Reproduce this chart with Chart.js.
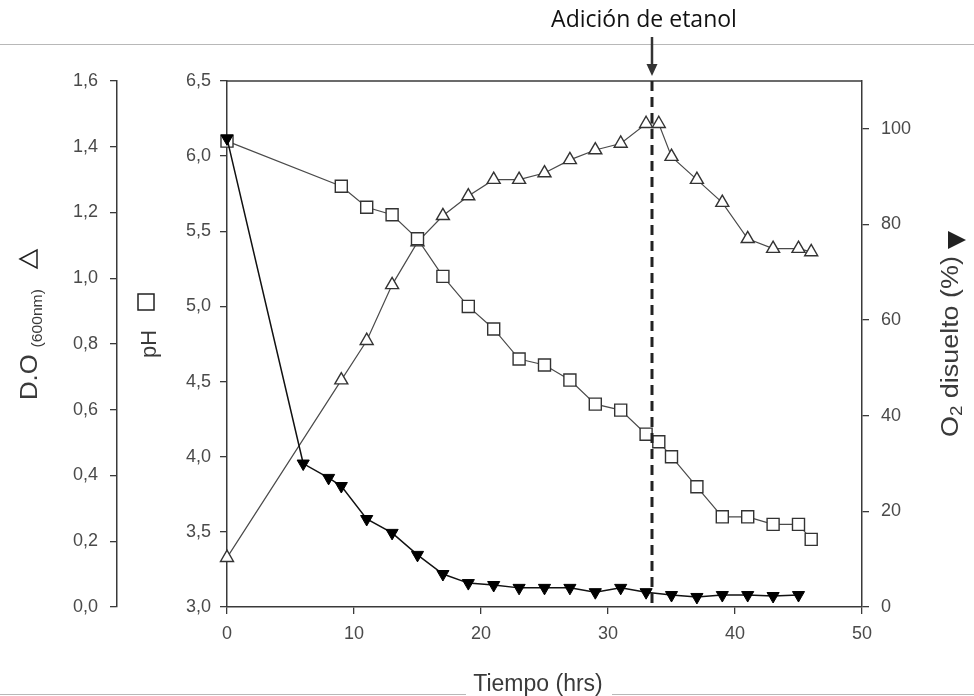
<!DOCTYPE html>
<html>
<head>
<meta charset="utf-8">
<script src="https://cdn.jsdelivr.net/npm/chart.js@4.4.1/dist/chart.umd.min.js"></script>
<style>
  html, body { margin: 0; padding: 0; background: #ffffff; }
  #wrap { width: 974px; height: 696px; position: relative; }
</style>
</head>
<body>
<div id="wrap"><canvas id="c"></canvas></div>
<script>
// Sampling times (h) and measurements of the culture
const hoursPH = [0, 9, 11, 13, 15, 17, 19, 21, 23, 25, 27, 29, 31, 33, 34, 35, 37, 39, 41, 43, 45, 46];
const pHValues = [6.10, 5.80, 5.66, 5.61, 5.45, 5.20, 5.00, 4.85, 4.65, 4.61, 4.51, 4.35, 4.31, 4.15, 4.10, 4.00, 3.80, 3.60, 3.60, 3.55, 3.55, 3.45];

const hoursOD = [0, 9, 11, 13, 15, 17, 19, 21, 23, 25, 27, 29, 31, 33, 34, 35, 37, 39, 41, 43, 45, 46];
const odValues = [0.15, 0.69, 0.81, 0.98, 1.11, 1.19, 1.25, 1.30, 1.30, 1.32, 1.36, 1.39, 1.41, 1.47, 1.47, 1.37, 1.30, 1.23, 1.12, 1.09, 1.09, 1.08];

const hoursO2 = [0, 6, 8, 9, 11, 13, 15, 17, 19, 21, 23, 25, 27, 29, 31, 33, 35, 37, 39, 41, 43, 45];
const o2Values = [98, 30, 27, 25.3, 18.4, 15.5, 10.9, 6.9, 5.0, 4.6, 4.0, 4.0, 4.0, 3.1, 4.0, 3.1, 2.5, 2.1, 2.5, 2.5, 2.3, 2.5];

// Time at which ethanol was added
const ethanolTime = 33.5;
const ethanolLabel = 'Adición de etanol';

const xTitle = 'Tiempo (hrs)';

const INK = '#3a3a3a';
const TICK_INK = '#4a4a4a';
const TICK_FONT = { family: '"Liberation Sans", Arial, sans-serif', size: 18 };
const comma = (v, d) => Number(v).toFixed(d).replace('.', ',');

const toPoints = (xs, ys) => xs.map((x, i) => ({ x: x, y: ys[i] }));

// Axis titles, frame top, ethanol marker
const decorations = {
  id: 'decorations',
  afterDraw(chart) {
    const ctx = chart.ctx;
    const area = chart.chartArea;
    const xs = chart.scales.x;
    ctx.save();

    // thin page rules
    ctx.strokeStyle = '#b8b8b8';
    ctx.lineWidth = 1;
    ctx.beginPath();
    ctx.moveTo(0, 44.5); ctx.lineTo(974, 44.5);
    ctx.moveTo(0, 694.5); ctx.lineTo(466, 694.5);
    ctx.moveTo(612, 694.5); ctx.lineTo(974, 694.5);
    ctx.stroke();

    // top edge of the plot frame
    ctx.strokeStyle = INK;
    ctx.lineWidth = 1.5;
    ctx.beginPath();
    ctx.moveTo(area.left, area.top);
    ctx.lineTo(area.right, area.top);
    ctx.stroke();

    // ethanol addition: dashed line
    const ex = Math.round(xs.getPixelForValue(ethanolTime));
    ctx.strokeStyle = '#222';
    ctx.lineWidth = 3;
    ctx.setLineDash([10, 6]);
    ctx.beginPath();
    ctx.moveTo(ex, area.top);
    ctx.lineTo(ex, area.bottom);
    ctx.stroke();
    ctx.setLineDash([]);

    // arrow
    ctx.strokeStyle = '#333';
    ctx.fillStyle = '#333';
    ctx.lineWidth = 2.5;
    ctx.beginPath();
    ctx.moveTo(ex, 37);
    ctx.lineTo(ex, 66);
    ctx.stroke();
    ctx.beginPath();
    ctx.moveTo(ex - 5.5, 64);
    ctx.lineTo(ex + 5.5, 64);
    ctx.lineTo(ex, 76);
    ctx.closePath();
    ctx.fill();

    ctx.fillStyle = '#111';
    ctx.font = '23px "Open Sans", sans-serif';
    ctx.textAlign = 'center';
    ctx.textBaseline = 'alphabetic';
    ctx.fillText(ethanolLabel, ex - 8, 27);

    // x axis title
    ctx.fillStyle = INK;
    ctx.font = '23px "Liberation Sans", Arial, sans-serif';
    ctx.fillText(xTitle, 538, 691);

    // rotated titles: pieces drawn along the text direction, slightly tall type
    function vertical(cx, startY, stretch, pieces) {
      ctx.save();
      ctx.translate(cx, startY);
      ctx.rotate(-Math.PI / 2);
      ctx.scale(stretch, 1);
      ctx.textAlign = 'left';
      ctx.textBaseline = 'alphabetic';
      let pos = 0;
      for (const p of pieces) {
        if (p.gap) { pos += p.gap; continue; }
        ctx.font = p.size + 'px "Liberation Sans", Arial, sans-serif';
        ctx.fillStyle = INK;
        ctx.fillText(p.text, pos, p.dy || 0);
        pos += ctx.measureText(p.text).width;
      }
      ctx.restore();
    }

    vertical(37, 400, 1.12, [{ text: 'D.O', size: 23 }, { gap: 6 }, { text: '(600nm)', size: 14, dy: 5 }]);
    vertical(156, 358, 1.0, [{ text: 'pH', size: 22 }]);
    vertical(958, 437, 1.17, [{ text: 'O', size: 23 }, { text: '2', size: 16, dy: 4 }, { text: ' disuelto (%)', size: 23 }]);

    // series symbols next to the titles
    ctx.lineWidth = 1.5;
    ctx.strokeStyle = '#222';
    // open triangle (optical density)
    ctx.beginPath();
    ctx.moveTo(20, 259); ctx.lineTo(37, 250); ctx.lineTo(37, 268); ctx.closePath();
    ctx.stroke();
    // open square (pH)
    ctx.strokeRect(138, 294, 16, 16);
    // filled triangle (dissolved O2)
    ctx.fillStyle = '#222';
    ctx.beginPath();
    ctx.moveTo(948, 231); ctx.lineTo(966, 240); ctx.lineTo(948, 249); ctx.closePath();
    ctx.fill();

    ctx.restore();
  }
};

const axisGrid = { drawOnChartArea: false, drawTicks: true, tickLength: 7, color: INK, lineWidth: 1.3 };
const axisBorder = { display: true, color: INK, width: 1.5 };

new Chart(document.getElementById('c'), {
  type: 'line',
  data: {
    datasets: [
      {
        label: 'O2 disuelto (%)',
        data: toPoints(hoursO2, o2Values),
        yAxisID: 'yO2',
        borderColor: '#111',
        borderWidth: 1.5,
        pointStyle: 'triangle',
        rotation: 180,
        pointRadius: 7,
        pointBackgroundColor: '#000',
        pointBorderColor: '#000',
        pointBorderWidth: 1,
        clip: false
      },
      {
        label: 'pH',
        data: toPoints(hoursPH, pHValues),
        yAxisID: 'yPH',
        borderColor: '#4a4a4a',
        borderWidth: 1.2,
        pointStyle: 'rect',
        pointRadius: 8.5,
        pointBackgroundColor: '#fff',
        pointBorderColor: '#333',
        pointBorderWidth: 1.4,
        clip: false
      },
      {
        label: 'D.O (600nm)',
        data: toPoints(hoursOD, odValues),
        yAxisID: 'yOD',
        borderColor: '#4a4a4a',
        borderWidth: 1.2,
        pointStyle: 'triangle',
        pointRadius: 7.5,
        pointBackgroundColor: '#fff',
        pointBorderColor: '#333',
        pointBorderWidth: 1.4,
        clip: false
      }
    ]
  },
  options: {
    responsive: true,
    maintainAspectRatio: false,
    animation: false,
    events: [],
    layout: { padding: { top: 81, bottom: 39, left: 17, right: 32 } },
    plugins: { legend: { display: false }, tooltip: { enabled: false } },
    elements: { line: { tension: 0 } },
    scales: {
      x: {
        type: 'linear',
        position: 'bottom',
        min: 0, max: 50,
        ticks: { stepSize: 10, color: TICK_INK, font: TICK_FONT, padding: 9, maxRotation: 0 },
        grid: axisGrid,
        border: axisBorder,
        afterFit(s) { s.height = 50; }
      },
      yPH: {
        type: 'linear',
        position: 'left',
        weight: 0,
        min: 3, max: 6.5,
        ticks: { stepSize: 0.5, color: TICK_INK, font: TICK_FONT, padding: 9, callback: v => comma(v, 1) },
        grid: axisGrid,
        border: axisBorder,
        afterFit(s) { s.width = 110; }
      },
      yOD: {
        type: 'linear',
        position: 'left',
        weight: 1,
        min: 0, max: 1.6,
        ticks: { stepSize: 0.2, color: TICK_INK, font: TICK_FONT, padding: 12, callback: v => comma(v, 1) },
        grid: axisGrid,
        border: axisBorder,
        afterFit(s) { s.width = 100; }
      },
      yO2: {
        type: 'linear',
        position: 'right',
        min: 0, max: 110,
        ticks: { stepSize: 20, color: TICK_INK, font: TICK_FONT, padding: 12 },
        afterBuildTicks(s) { s.ticks = s.ticks.filter(t => t.value <= 100); },
        grid: axisGrid,
        border: axisBorder,
        afterFit(s) { s.width = 80; }
      }
    }
  },
  plugins: [decorations]
});
</script>
</body>
</html>
